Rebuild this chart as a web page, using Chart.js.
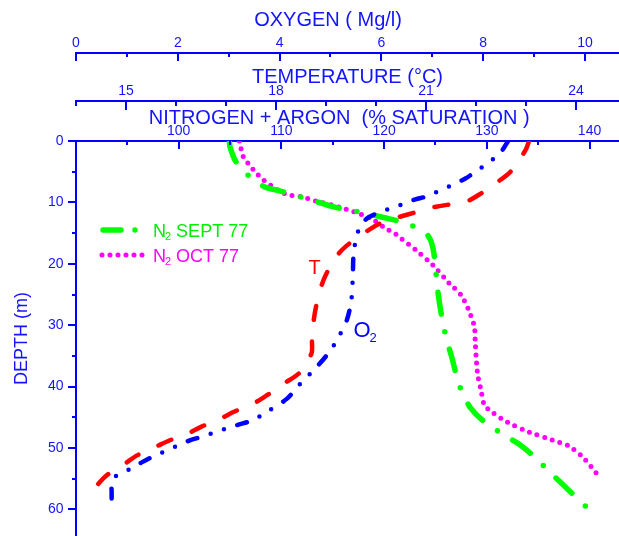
<!DOCTYPE html>
<html>
<head>
<meta charset="utf-8">
<script src="https://cdn.jsdelivr.net/npm/chart.js@4.4.0/dist/chart.umd.min.js"></script>
<style>
  html, body { margin: 0; padding: 0; background: #fff; }
  #wrap { width: 619px; height: 536px; }
</style>
</head>
<body>
<div id="wrap"><canvas id="myChart" width="619" height="536"></canvas></div>
<script>
// depth profiles (depth in m)
const o2Depth = [0, 2, 3.7, 5, 6.1, 7.2, 8, 9, 9.5, 10.2, 10.9, 11.7, 12.6, 14, 15.9, 18.9, 21.6, 25.9, 29.2, 31.9, 34.1, 36.8, 39.5, 42, 44.1, 45.5, 46.2, 46.7, 47.4, 48.1, 48.7, 49.4, 50.4, 51.2, 52.3, 53.4, 54.4, 55.5, 57, 60];
const o2Values = [8.49, 8.33, 8.07, 7.85, 7.65, 7.38, 7.16, 6.9, 6.67, 6.44, 6.21, 5.94, 5.72, 5.58, 5.5, 5.45, 5.44, 5.41, 5.32, 5.16, 5.0, 4.73, 4.41, 4.14, 3.75, 3.46, 3.19, 3.0, 2.74, 2.51, 2.25, 2.05, 1.79, 1.56, 1.30, 1.07, 0.81, 0.70, 0.70, 0.70];

const tempDepth = [0, 1.5, 5, 6.9, 8.8, 10.2, 10.4, 10.9, 11.7, 12.4, 12.9, 14.3, 17, 18.9, 21.9, 24.3, 27, 29.5, 32.5, 34.6, 37.6, 39.5, 41.4, 42.7, 44.1, 45.2, 46.6, 47.7, 48.7, 49.7, 51.2, 52.5, 54.4, 56.6];
const tempValues = [23.06, 22.99, 22.69, 22.39, 22.05, 21.72, 21.42, 21.09, 20.75, 20.45, 20.22, 19.89, 19.42, 19.2, 18.99, 18.88, 18.8, 18.75, 18.72, 18.71, 18.49, 18.16, 17.82, 17.56, 17.16, 16.89, 16.49, 16.22, 15.89, 15.62, 15.22, 14.99, 14.62, 14.36];

const sepDepth = [0, 1, 3.4, 5.6, 7.5, 8.0, 8.6, 9.7, 10.7, 11.7, 12.5, 13.0, 13.7, 15.1, 16.4, 18.9, 24.3, 29.5, 33, 35.4, 39, 41.1, 43.6, 45.5, 47.9, 49.4, 51.4, 54.6, 56.9, 60];
const sepValues = [104.93, 105.0, 105.58, 106.78, 108.4, 109.53, 110.83, 113.1, 115.0, 117.94, 120.05, 121.34, 122.6, 124.1, 124.58, 124.9, 125.22, 125.7, 126.2, 126.62, 127.17, 127.65, 128.47, 129.6, 131.7, 133.16, 134.6, 136.55, 138.0, 139.95];

const octDepth = [0, 2.6, 3.7, 5.0, 6.3, 7.2, 8.6, 9.1, 9.8, 10.8, 12.6, 14.3, 15.0, 15.9, 17.8, 20.2, 23.2, 25.1, 27.8, 30.3, 33, 37.9, 40.6, 43.0, 44.0, 45.8, 47.4, 48.7, 49.7, 51.7, 54.3];
const octValues = [105.9, 106.3, 106.78, 107.43, 108.23, 108.95, 110.34, 111.96, 113.42, 115.68, 118.7, 120.2, 121.0, 121.67, 123.13, 124.74, 126.36, 127.5, 128.3, 128.79, 128.88, 129.1, 129.44, 129.76, 130.4, 132.0, 134.13, 136.39, 138.0, 139.47, 140.76];

// tick labels
const oxyTicks = [0, 2, 4, 6, 8, 10];
const tempTicks = [15, 18, 21, 24];
const nitTicks = [90, 100, 110, 120, 130, 140];
const depthTicks = [0, 10, 20, 30, 40, 50, 60];

const FONT = '"Liberation Sans", Arial, sans-serif';
const BLUE = '#0000ff';
const TEXT_BLUE = '#1414ff';

const pts = (xs, ds) => xs.map((v, i) => ({x: v, y: ds[i]}));

// minor/major tick marks + custom legend + curve labels
const extras = {
  id: 'extras',
  afterDraw(chart) {
    const ctx = chart.ctx;
    const sc = chart.scales;
    ctx.save();
    ctx.strokeStyle = BLUE;
    ctx.lineWidth = 2;
    const topTicks = (s, from, to, step, isMajor, majLen, minLen) => {
      for (let v = from; v <= to; v += step) {
        const x = Math.round(s.getPixelForValue(v));
        ctx.beginPath();
        ctx.moveTo(x, s.bottom - 1);
        ctx.lineTo(x, s.bottom + (isMajor(v) ? majLen : minLen));
        ctx.stroke();
      }
    };
    topTicks(sc.oxy, 0, 10, 1, v => v % 2 === 0, 8, 4);
    topTicks(sc.temp, 14, 24, 1, v => v % 3 === 0, 9, 5);
    topTicks(sc.nit, 90, 140, 5, v => v % 10 === 0, 8, 4);
    const ys = sc.y;
    for (let v = 0; v <= 60; v += 5) {
      const y = Math.round(ys.getPixelForValue(v));
      ctx.beginPath();
      ctx.moveTo(ys.right, y);
      ctx.lineTo(ys.right - (v % 10 === 0 ? 8 : 4), y);
      ctx.stroke();
    }

    // legend
    ctx.lineCap = 'round';
    ctx.strokeStyle = '#00ff00';
    ctx.lineWidth = 5.5;
    ctx.setLineDash([18, 14, 0, 14]);
    ctx.beginPath(); ctx.moveTo(103, 230); ctx.lineTo(140, 230); ctx.stroke();
    ctx.strokeStyle = '#ff00ff';
    ctx.lineWidth = 5;
    ctx.setLineDash([0, 8]);
    ctx.beginPath(); ctx.moveTo(102, 255); ctx.lineTo(142.5, 255); ctx.stroke();
    ctx.setLineDash([]);

    const subText = (x, y, main, sub, rest, size, subSize, color, gap) => {
      ctx.fillStyle = color;
      ctx.textBaseline = 'alphabetic';
      ctx.textAlign = 'left';
      ctx.font = size + 'px ' + FONT;
      ctx.fillText(main, x, y);
      const w = ctx.measureText(main).width;
      ctx.font = subSize + 'px ' + FONT;
      ctx.fillText(sub, x + w - 1, y + size * 0.2);
      const w2 = ctx.measureText(sub).width;
      if (rest) {
        ctx.font = size + 'px ' + FONT;
        ctx.fillText(rest, x + w - 1 + w2 + gap, y);
      }
    };
    subText(153, 236.5, 'N', '2', 'SEPT 77', 18, 11, '#00ee00', 5);
    subText(153, 261.5, 'N', '2', 'OCT 77', 18, 11, '#ff00ff', 5);

    // curve labels
    ctx.fillStyle = '#ff0000';
    ctx.font = '20px ' + FONT;
    ctx.fillText('T', sc.temp.getPixelForValue(18.65), ys.getPixelForValue(21.6));
    subText(sc.oxy.getPixelForValue(5.45), ys.getPixelForValue(32.0), 'O', '2', '', 22, 13, BLUE, 0);
    ctx.restore();
  }
};

const axisFont = {family: FONT, size: 14};
const titleFont = {family: FONT, size: 20};

function topAxis(title, min, max, ticks, weight, height, titlePad, callback) {
  return {
    type: 'linear',
    axis: 'x',
    position: 'top',
    weight: weight,
    min: min,
    max: max,
    grid: {display: false, drawTicks: false},
    border: {display: true, color: BLUE, width: 2},
    ticks: {
      color: TEXT_BLUE, font: axisFont, padding: 1,
      autoSkip: false, maxRotation: 0, minRotation: 0,
      callback: callback || (v => v)
    },
    title: {display: true, text: title, color: TEXT_BLUE, font: titleFont, padding: {top: titlePad, bottom: 0}},
    afterBuildTicks: s => { s.ticks = ticks.map(v => ({value: v})); },
    afterFit: s => { s.height = height; s.paddingLeft = 0; s.paddingRight = 0; }
  };
}

const ctx = document.getElementById('myChart').getContext('2d');
const chart = new Chart(ctx, {
  type: 'scatter',
  data: {
    datasets: [
      {
        label: 'O2',
        data: pts(o2Values, o2Depth),
        xAxisID: 'oxy', yAxisID: 'y',
        borderColor: '#0000ff', borderWidth: 4.5,
        borderDash: [10, 14, 0, 14, 0, 14]
      },
      {
        label: 'T',
        data: pts(tempValues, tempDepth),
        xAxisID: 'temp', yAxisID: 'y',
        borderColor: '#ff0000', borderWidth: 4.5,
        borderDash: [14, 22]
      },
      {
        label: 'N2 SEPT 77',
        data: pts(sepValues, sepDepth),
        xAxisID: 'nit', yAxisID: 'y',
        borderColor: '#00ff00', borderWidth: 5.5,
        borderDash: [22, 18, 0, 18]
      },
      {
        label: 'N2 OCT 77',
        data: pts(octValues, octDepth),
        xAxisID: 'nit', yAxisID: 'y',
        borderColor: '#ff00ff', borderWidth: 5,
        borderDash: [0, 8]
      }
    ].map(d => Object.assign(d, {
      showLine: true, pointRadius: 0, fill: false, tension: 0.3,
      borderCapStyle: 'round', borderJoinStyle: 'round'
    }))
  },
  options: {
    responsive: false,
    animation: false,
    events: [],
    layout: {padding: 0, autoPadding: false},
    plugins: {legend: {display: false}, tooltip: {enabled: false}},
    scales: {
      oxy: topAxis('OXYGEN ( Mg/l)' + '\u00a0'.repeat(7), 0, 10.668, oxyTicks, 3, 53, 8),
      temp: topAxis('TEMPERATURE (°C)', 14, 24.86, tempTicks, 2, 48, 12),
      nit: topAxis('NITROGEN + ARGON  (% SATURATION )' + '\u00a0'.repeat(3), 90, 142.87, nitTicks, 1, 40, 5.5,
        v => (v === 90 ? '' : v)),
      y: {
        type: 'linear',
        position: 'left',
        reverse: true,
        min: 0,
        max: 64.33,
        grid: {display: false, drawTicks: false},
        border: {display: true, color: BLUE, width: 2},
        ticks: {color: TEXT_BLUE, font: axisFont, padding: 12.5, autoSkip: false},
        title: {display: true, text: 'DEPTH (m)', color: TEXT_BLUE, font: {family: FONT, size: 18}, padding: {top: 11, bottom: 0}},
        afterBuildTicks: s => { s.ticks = depthTicks.map(v => ({value: v})); },
        afterFit: s => { s.width = 76; s.paddingTop = 0; s.paddingBottom = 0; }
      }
    }
  },
  plugins: [extras]
});
</script>
</body>
</html>
